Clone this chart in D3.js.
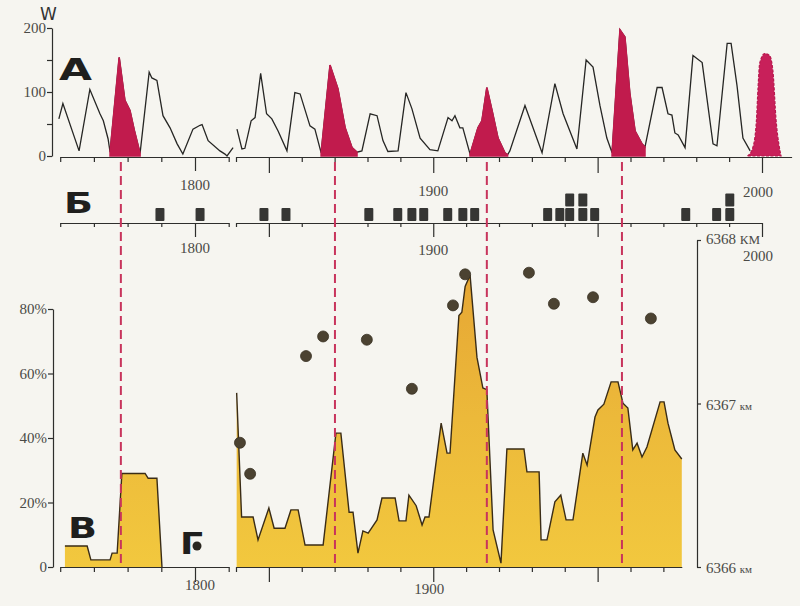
<!DOCTYPE html>
<html lang='ru'>
<head>
<meta charset='UTF-8'>
<title>Солнечная активность и Земля</title>
<script src='https://d3js.org/d3.v7.min.js'></script>
<style>
  body { margin: 0; background: #f6f5f0; }
  svg { display: block; }
  .num { font-family: 'Liberation Serif', serif; font-size: 15px; fill: #4a4a46; }
  .big { font-family: 'DejaVu Sans', sans-serif; font-weight: bold; fill: #1f1f1d; }
  .ax .domain, .ax .tick line { stroke: #2e2e2c; stroke-width: 1.2; }
</style>
</head>
<body>
<svg width='800' height='606'></svg>
<script>
// A: Wolf number, 1760-1811 and 1840-1996
const leftYears = [1759.6, 1760.8, 1765.6, 1768.8, 1771.8, 1772.8, 1774.2, 1774.8, 1777.5, 1779.2, 1780.7, 1782, 1783.7,
  1786.4, 1787.2, 1788.7, 1790.5, 1792.6, 1794.7, 1796.4, 1799.4, 1801.5, 1802.1, 1803.9, 1807.4, 1808.9, 1809.5, 1811.3]
const leftW = [58, 82, 8, 104, 66, 55, 27, 6, 154, 87, 71, 40, 4,
  131, 122, 118, 63, 44, 19, 3, 42, 48, 49, 24, 8, 3, 0, 13]

const rightYears = [1840.3, 1841.8, 1842.7, 1844.6, 1845.8, 1847.5, 1849.3, 1850.9, 1852.8, 1855.5, 1857.9, 1859.5,
  1862.5, 1864, 1865.9, 1868.6, 1871, 1873.2, 1875.3, 1876.8, 1878.3, 1880.8, 1882.9, 1884.7, 1886.2, 1889.3,
  1891.7, 1893.5, 1896, 1899, 1901.4, 1904.5, 1905.7, 1906.6, 1908.1, 1909, 1911.2, 1913.6, 1914.8, 1916.3,
  1917.9, 1919.7, 1921.8, 1922.6, 1923.3, 1927.9, 1933.1, 1937, 1939.5, 1943.7, 1946.5, 1948.6, 1950.7, 1952.8,
  1954.4, 1956.8, 1958.3, 1959.8, 1961.4, 1963.5, 1964.4, 1968.1, 1969.6, 1971.4, 1972.6, 1973.5, 1974.5,
  1976.6, 1979, 1981.8, 1985.1, 1986.3, 1989.4, 1990.6, 1992.4, 1994.2, 1996.4]
const rightW = [42, 11, 12, 55, 60, 129, 66, 58, 39, 8, 99, 97,
  47, 42, 5, 142, 105, 44, 13, 6, 8, 66, 63, 24, 7, 8,
  99, 74, 28, 10, 8, 60, 55, 63, 44, 44, 3, 44, 55, 107,
  71, 28, 5, 2, 8, 79, 5, 113, 66, 11, 150, 139, 79, 28,
  5, 197, 186, 98, 39, 19, 14, 107, 107, 66, 64, 36, 33,
  13, 157, 146, 19, 16, 176, 176, 110, 28, 8]

// cycles shaded red
const redCycles = [[1774.8, 1783.7], [1865.9, 1876.8], [1911.2, 1922.6], [1954.4, 1964.4]]

// forecast cycle
const forecastYears = [1995.6, 1997.2, 1998.3, 1998.8, 1999.3, 2000.8, 2002.3, 2003.3, 2004.3, 2005.3, 2005.8]
const forecastW = [0, 13, 55, 107, 145, 160, 157, 134, 55, 13, 0]

// Б: events (one square each)
const quakeYears = [1789.6, 1801.5, 1848.5, 1855.2, 1880.4, 1889.2, 1893.5, 1897.1, 1904.4, 1909, 1912.6,
  1934.8, 1938.5, 1941.5, 1941.5, 1945.5, 1945.5, 1949.1, 1976.8, 1986.2, 1990.2, 1990.2]

// В: percent
const pctLeftYears = [1761.4, 1768, 1769.1, 1774.8, 1775.4, 1776.9, 1778.3, 1785.2, 1786.1, 1788.7, 1790.2]
const pctLeft = [6.5, 6.5, 2.2, 2.2, 4.3, 4.3, 29, 29, 27.5, 27.5, 0]

const pctRightYears = [1840.2, 1841.7, 1845.2, 1846.7, 1850, 1851.6, 1854.9, 1856.7, 1858.9, 1861, 1866.5,
  1870.4, 1871.9, 1874.4, 1875.6, 1877.1, 1878.6, 1880.2, 1882.9, 1884.4, 1888.4, 1889.6, 1891.7, 1892.6,
  1894.8, 1896.6, 1897.5, 1898.7, 1902.4, 1904.2, 1905.1, 1907.8, 1908.7, 1909.7, 1911.2, 1913.3, 1915.1,
  1916.3, 1918.2, 1920.6, 1922.4, 1927.6, 1928.5, 1932.2, 1932.8, 1934.6, 1937, 1938.8, 1940.4, 1942.5,
  1945.5, 1946.8, 1949.2, 1950.1, 1951.9, 1954.1, 1956.2, 1957.7, 1959.2, 1960.7, 1962, 1963.5, 1965,
  1969, 1970.2, 1971.4, 1973.5, 1975.6]
const pctRight = [54, 15.5, 15.5, 8.4, 18.3, 12, 12, 17.7, 17.7, 6.8, 6.8,
  41.5, 41.5, 17, 17, 4.3, 11.2, 10.5, 14.6, 21.4, 21.4, 14.3, 14.3, 22.3,
  19, 13, 15.5, 15.5, 44.6, 35.3, 35.3, 78, 79, 87, 90.5, 65, 55.5,
  55, 11.5, 1.2, 36.6, 36.6, 29.5, 29.5, 8.4, 8.4, 20.2, 22.3, 14.6, 14.6,
  35.3, 31.6, 46.5, 48.7, 50.5, 57.4, 57.4, 50.8, 49.3, 36.3, 38.4, 34.1, 37.2,
  51.2, 51.2, 44.6, 36.3, 33.5]

// Г: points, km
const dotYears = [1841.2, 1844.3, 1861.3, 1866.5, 1879.8, 1893.5, 1906, 1909.7, 1929.1, 1936.7, 1948.6, 1966.2]
const dotKm = [6366.76, 6366.57, 6367.29, 6367.41, 6367.39, 6367.09, 6367.6, 6367.79, 6367.8, 6367.61, 6367.65, 6367.52]

// maxima marked by dashed lines
const maxYears = [1778, 1870.1, 1916.3, 1957.4]

const wTicks = [0, 50, 100, 150, 200]
const pctTicks = [0, 20, 40, 60, 80]
const kmTicks = [6366, 6367, 6368]

const svg = d3.select('svg')
svg.append('rect').attr('width', 800).attr('height', 606).attr('fill', '#f6f5f0')

const grad = svg.append('defs').append('linearGradient').attr('id', 'yel')
  .attr('gradientUnits', 'userSpaceOnUse').attr('x1', 0).attr('y1', 270).attr('x2', 0).attr('y2', 567)
grad.append('stop').attr('offset', 0).attr('stop-color', '#e6a634')
grad.append('stop').attr('offset', 0.5).attr('stop-color', '#ecb93a')
grad.append('stop').attr('offset', 1).attr('stop-color', '#f2c83e')

const xL = d3.scaleLinear().domain([1760, 1810]).range([60.2, 228.7])
const xR = d3.scaleLinear().domain([1840, 2000]).range([236, 762])
const xAt = y => y < 1825 ? xL(y) : xR(y)
const yA = d3.scaleLinear().domain([0, 200]).range([156, 28])
const yP = d3.scaleLinear().domain([0, 80]).range([567, 309])
const yK = d3.scaleLinear().domain([6366, 6368]).range([567, 240])

// В area
const pctSegs = [[d3.zip(pctLeftYears, pctLeft), xL], [d3.zip(pctRightYears, pctRight), xR]]
pctSegs.forEach(([pts, xs]) => {
  svg.append('path').datum(pts)
    .attr('d', d3.area().x(d => xs(d[0])).y0(yP(0)).y1(d => yP(d[1])))
    .attr('fill', 'url(#yel)')
  svg.append('path').datum(pts)
    .attr('d', d3.line().x(d => xs(d[0])).y(d => yP(d[1])))
    .attr('fill', 'none').attr('stroke', '#3a2c16').attr('stroke-width', 1.4)
})

// A line
const wSegs = [[d3.zip(leftYears, leftW), xL], [d3.zip(rightYears, rightW), xR]]
wSegs.forEach(([pts, xs]) => {
  svg.append('path').datum(pts)
    .attr('d', d3.line().x(d => xs(d[0])).y(d => yA(d[1])))
    .attr('fill', 'none').attr('stroke', '#262624').attr('stroke-width', 1.3)
  redCycles.forEach(([a, b]) => {
    const sub = pts.filter(d => d[0] >= a && d[0] <= b)
    if (!sub.length) return
    svg.append('path').datum(sub)
      .attr('d', d3.area().x(d => xs(d[0])).y0(yA(0)).y1(d => yA(d[1])))
      .attr('fill', '#c11b4d').attr('stroke', '#c11b4d').attr('stroke-width', 1.6)
  })
})
svg.append('path').datum(d3.zip(forecastYears, forecastW))
  .attr('d', d3.area().curve(d3.curveMonotoneX).x(d => xR(d[0])).y0(yA(0)).y1(d => yA(d[1])))
  .attr('fill', '#c8205a').attr('stroke', '#b8184e').attr('stroke-width', 1.2)
  .attr('stroke-dasharray', '3,1.5')

// time axes
function timeAxis(y, x, lo, hi, shortLen, longLen) {
  const s = x.copy().domain([lo, hi]).range([x(lo), x(hi)])
  const ticks = d3.range(Math.ceil(lo / 10) * 10, hi + 0.001, 10)
  const g = svg.append('g').attr('class', 'ax').attr('transform', `translate(0,${y})`)
    .call(d3.axisBottom(s).tickValues(ticks).tickSize(shortLen).tickSizeOuter(0).tickFormat(''))
  g.selectAll('.tick line').filter(d => d % 50 === 0).attr('y2', longLen)
  return g
}
timeAxis(157, xL, 1760, 1810, 5, 14)
timeAxis(157, xR, 1840, 2009, 5, 16)
timeAxis(223, xL, 1760, 1810, 4, 14)
timeAxis(223, xR, 1840, 2000, 4, 14)
timeAxis(567, xL, 1760, 1810, 5, 15)
timeAxis(567, xR, 1840, 1975.6, 5, 15)

function label(x, y, t, anchor) {
  return svg.append('text').attr('class', 'num').attr('x', x).attr('y', y)
    .attr('text-anchor', anchor || 'middle').text(t)
}
label(xL(1800), 190, '1800'); label(xR(1900), 196, '1900'); label(xR(2000) - 4, 197, '2000')
label(xL(1800), 253, '1800'); label(xR(1900), 255, '1900'); label(xR(2000) - 4, 261, '2000')
label(xL(1800) + 5, 590, '1800'); label(xR(1900) - 4, 594, '1900')

// value axes
function styleAx(g) {
  g.attr('class', 'ax').attr('font-family', null).attr('font-size', null)
  g.selectAll('text').attr('class', 'num')
}
svg.append('g').attr('transform', 'translate(52,0)')
  .call(d3.axisLeft(yA).tickValues(wTicks).tickSize(5).tickPadding(1).tickSizeOuter(0)
    .tickFormat(d => d % 100 ? '' : d)).call(styleAx)
svg.append('text').attr('x', 40).attr('y', 20).text('W')
  .attr('font-family', 'DejaVu Sans, sans-serif').attr('font-size', 17).attr('fill', '#333')

svg.append('g').attr('transform', 'translate(53,0)')
  .call(d3.axisLeft(yP).tickValues(pctTicks).tickSize(5).tickPadding(1).tickSizeOuter(0)
    .tickFormat(d => d ? d + '%' : '0')).call(styleAx)

svg.append('g').attr('transform', 'translate(697,0)')
  .call(d3.axisRight(yK).tickValues(kmTicks).tickSize(4).tickSizeOuter(0).tickFormat('')).call(styleAx)
kmTicks.forEach((v, i) => {
  const t = label(706, yK(v) + (i === 2 ? 4 : 6), v + ' ', 'start')
  t.append('tspan').attr('font-size', i === 2 ? 13 : 11).text(i === 2 ? 'КМ' : 'км')
})

// Б squares
const seen = {}
quakeYears.forEach(yr => {
  const k = seen[yr] = (seen[yr] || 0) + 1
  svg.append('rect').attr('x', xAt(yr) - 4.5).attr('y', 222 - k * 14.5 + 0.5)
    .attr('width', 9).attr('height', 13).attr('rx', 1).attr('fill', '#363634')
})

// Г dots
svg.selectAll('circle.dot').data(d3.zip(dotYears, dotKm)).join('circle')
  .attr('class', 'dot').attr('cx', d => xR(d[0])).attr('cy', d => yK(d[1])).attr('r', 5.5)
  .attr('fill', '#4b4231').attr('stroke', '#3a3224').attr('stroke-width', 0.8)

// dashed maxima
svg.selectAll('line.mx').data(maxYears).join('line')
  .attr('class', 'mx').attr('x1', d => xAt(d)).attr('x2', d => xAt(d))
  .attr('y1', 162).attr('y2', 566)
  .attr('stroke', '#c8345c').attr('stroke-width', 2).attr('stroke-dasharray', '9,5')

// panel letters
function big(x, y, t, size, w) {
  svg.append('text').attr('class', 'big').attr('x', x).attr('y', y).attr('font-size', size)
    .attr('textLength', w).attr('lengthAdjust', 'spacingAndGlyphs').text(t)
}
big(59, 80, 'А', 31, 33)
big(64, 213, 'Б', 29, 29)
big(68, 538, 'В', 29, 29)
big(180, 554, 'Г', 30, 23)
svg.append('circle').attr('cx', 197).attr('cy', 546).attr('r', 4.5).attr('fill', '#2a2620')
</script>
</body>
</html>
